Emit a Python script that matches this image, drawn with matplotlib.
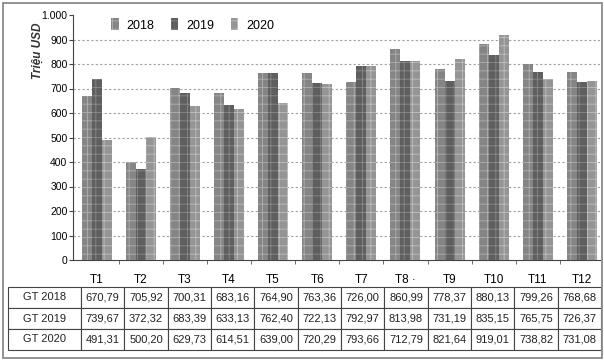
import matplotlib
matplotlib.use("Agg")
import matplotlib.pyplot as plt
import numpy as np
from matplotlib.patches import Rectangle, Patch

plt.rcParams['font.family'] = ['Liberation Sans', 'DejaVu Sans']
plt.rcParams['hatch.linewidth'] = 0.6

months = ["T1", "T2", "T3", "T4", "T5", "T6", "T7", "T8 ·", "T9", "T10", "T11", "T12"]
years = ["2018", "2019", "2020"]

# bar heights as drawn in the chart
bars_2018 = [670.79, 400.0, 700.31, 683.16, 764.90, 763.36, 726.00, 860.99, 778.37, 880.13, 799.26, 768.68]
bars_2019 = [739.67, 372.32, 683.39, 633.13, 762.40, 722.13, 792.97, 813.98, 731.19, 835.15, 765.75, 726.37]
bars_2020 = [491.31, 500.20, 629.73, 614.51, 639.00, 720.29, 793.66, 812.00, 821.64, 919.01, 738.82, 731.08]

# values printed in the table
row_labels = ["GT 2018", "GT 2019", "GT 2020"]
gt_2018 = ["670,79", "705,92", "700,31", "683,16", "764,90", "763,36", "726,00", "860,99", "778,37", "880,13", "799,26", "768,68"]
gt_2019 = ["739,67", "372,32", "683,39", "633,13", "762,40", "722,13", "792,97", "813,98", "731,19", "835,15", "765,75", "726,37"]
gt_2020 = ["491,31", "500,20", "629,73", "614,51", "639,00", "720,29", "793,66", "712,79", "821,64", "919,01", "738,82", "731,08"]

yticks = [0, 100, 200, 300, 400, 500, 600, 700, 800, 900, 1000]
ytick_labels = ["0", "100", "200", "300", "400", "500", "600", "700", "800", "900", "1.000"]

W, H = 604, 362
fig = plt.figure(figsize=(W / 100, H / 100), dpi=100)
fig.patch.set_facecolor("white")

# outer frame
fig.patches.append(Rectangle((3 / W, 4 / H), 599 / W, 355 / H, transform=fig.transFigure,
                             fill=False, edgecolor="#8a8a8a", lw=1.3))

ax = fig.add_axes([73 / W, (H - 260) / H, (600 - 73) / W, (260 - 15) / H])
x = np.arange(len(months))
w = 0.227
colors = ["#858585", "#5f5f5f", "#959595"]
hatch_cols = ["#b0b0b0", "#8a8a8a", "#bfbfbf"]
series = [bars_2018, bars_2019, bars_2020]
handles = []
for i, (vals, c, hc, lab) in enumerate(zip(series, colors, hatch_cols, years)):
    ax.bar(x + (i - 1) * w, vals, width=w, color=c, edgecolor=hc, hatch="++", linewidth=0, zorder=3)
    handles.append(Patch(facecolor=c, edgecolor=hc, hatch="++", linewidth=0, label=lab))

ax.set_xlim(-0.537, 11.41)
ax.set_ylim(0, 1000)
ax.set_yticks(yticks)
ax.set_yticklabels(ytick_labels, fontsize=7.5)
ax.set_xticks(x)
ax.set_xticklabels(months, fontsize=8.5)
ax.set_xticks(np.arange(len(months) - 1) + 0.5, minor=True)
ax.tick_params(axis="x", which="major", length=0, pad=10)
ax.tick_params(axis="x", which="minor", length=3, direction="out", color="#555")
ax.tick_params(axis="y", length=3, direction="out", color="#444", pad=1)
for s in ["top", "right"]:
    ax.spines[s].set_visible(False)
ax.spines["left"].set_color("#444")
ax.spines["bottom"].set_color("#444")
for yv in yticks[1:-1]:
    ax.axhline(yv, color="#a0a0a0", lw=0.8, linestyle=(0, (2, 2)), zorder=1)

fig.text(38 / W, (H - 51) / H, "Triệu USD", rotation=90, ha="center", va="center",
         fontsize=8.5, style="italic", fontweight="bold", color="#333")

leg = fig.legend(handles=handles, loc="center left", bbox_to_anchor=(111 / W, (H - 25) / H),
                 ncol=3, frameon=False, fontsize=9, handlelength=0.6, handleheight=1.1,
                 handletextpad=0.65, columnspacing=1.3, borderaxespad=0, borderpad=0)

# table
tax = fig.add_axes([8 / W, (H - 350) / H, (601 - 8) / W, (350 - 287) / H])
tax.axis("off")
cells = [gt_2018, gt_2019, gt_2020]
table_text = [[row_labels[r]] + cells[r] for r in range(3)]
lab_w = 73
dat_w = (601 - 8 - lab_w) / 12
tot = lab_w + 12 * dat_w
col_widths = [lab_w / tot] + [dat_w / tot] * 12
tbl = tax.table(cellText=table_text, colWidths=col_widths, cellLoc="center", bbox=[0, 0, 1, 1])
tbl.auto_set_font_size(False)
for (r, c), cell in tbl.get_celld().items():
    cell.set_edgecolor("#444")
    cell.set_linewidth(0.8)
    cell.get_text().set_fontsize(8)
    cell.get_text().set_color("#222")

fig.savefig("out.png", dpi=100)
